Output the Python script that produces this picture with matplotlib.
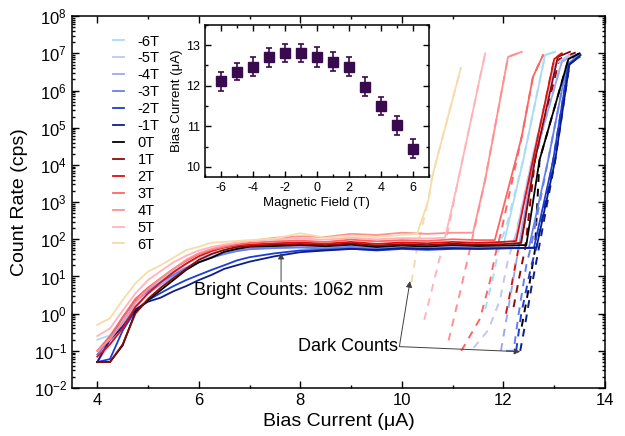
import numpy as np
import matplotlib
matplotlib.use("Agg")
import matplotlib.pyplot as plt
from matplotlib.ticker import LogLocator, MultipleLocator, NullFormatter

plt.rcParams['font.family'] = ['Liberation Sans', 'DejaVu Sans']
plt.rcParams['mathtext.default'] = 'regular'
plt.rcParams['axes.unicode_minus'] = False

# ---------------- data ----------------
fields = ['-6T', '-5T', '-4T', '-3T', '-2T', '-1T', '0T', '1T', '2T', '3T', '4T', '5T', '6T']
colors = ['#a9dcf5', '#c3c6f3', '#9aa8f3', '#6680f0', '#1c3cd6', '#0c1c8c', '#000000',
          '#8b0a0a', '#dd1010', '#ff6464', '#ff9090', '#ffb4ba', '#f6dcab']

bias_low = [4.0, 4.25, 4.5, 4.75, 5.0, 5.25, 5.5, 5.75, 6.0, 6.25, 6.5, 6.75, 7.0,
            7.5, 8.0, 8.5, 9.0, 9.5, 10.0, 10.5, 11.0, 11.5, 12.0]

# bright counts: plateau part (on bias_low grid) and rise part
bright_low_m6 = [0.2, 0.26, 0.7, 2.0, 4.5, 8, 14, 22, 32, 42, 50, 58, 65, 70, 72, 68, 75, 62, 70, 66, 72, 68, 70]
bright_low_m5 = [0.05, 0.15, 0.6, 2.0, 4, 7, 12, 18, 26, 35, 45, 52, 58, 62, 66, 60, 70, 58, 62, 60, 65, 62, 60]
bright_low_m4 = [0.05, 0.2, 0.5, 1.6, 3.5, 6, 10, 16, 24, 32, 42, 50, 55, 60, 62, 58, 66, 56, 60, 58, 62, 60, 58]
bright_low_m3 = [0.08, 0.2, 0.8, 2.2, 4, 7, 11, 17, 24, 32, 40, 48, 54, 58, 60, 56, 62, 55, 58, 56, 60, 58, 57]
bright_low_m2 = [0.05, 0.06, 0.35, 1.2, 2.3, 3.6, 5.5, 8, 11, 15, 20, 27, 33, 42, 50, 52, 56, 50, 55, 52, 55, 56, 58]
bright_low_m1 = [0.05, 0.2, 0.45, 1.3, 2.1, 2.7, 4, 5.5, 8, 11, 16, 20, 25, 35, 45, 50, 55, 52, 58, 55, 58, 55, 57]
bright_low_p0 = [0.05, 0.05, 0.14, 1.1, 2.3, 4.3, 8, 15, 24, 32, 46, 55, 63, 66, 70, 65, 72, 62, 68, 64, 70, 66, 68]
bright_low_p1 = [0.05, 0.05, 0.15, 1.0, 2.5, 5, 9, 16, 28, 40, 52, 62, 66, 72, 75, 70, 78, 68, 74, 70, 76, 72, 74]
bright_low_p2 = [0.07, 0.15, 0.4, 1.5, 3.5, 7, 13, 22, 35, 48, 60, 68, 72, 78, 82, 76, 85, 75, 82, 78, 85, 80, 85]
bright_low_p3 = [0.1, 0.25, 0.8, 2.5, 5, 9, 16, 26, 40, 52, 62, 72, 80, 88, 92, 85, 98, 88, 95, 90, 100, 95]
bright_low_p4 = [0.1, 0.2, 0.6, 2, 4.5, 9, 16, 28, 42, 55, 68, 80, 90, 110, 120, 115, 140, 130, 150, 140, 150]
bright_low_p5 = [0.25, 0.4, 1.2, 3.5, 8, 14, 24, 36, 50, 62, 72, 82, 90, 100, 105, 98, 110, 100, 108, 105]
bright_low_p6 = [0.5, 0.75, 2.3, 6.5, 13.5, 20, 32, 51, 63, 81, 85, 90, 95, 105, 145, 110, 125, 115, 130]

rise_x_m6 = [12.39, 12.82, 13.02];              rise_y_m6 = [1.35e4, 9e6, 1.1e7]
rise_x_m5 = [12.2, 12.56, 13.0, 13.3];          rise_y_m5 = [65, 1.35e4, 5e6, 9e6]
rise_x_m4 = [12.3, 12.6, 13.15, 13.4];          rise_y_m4 = [62, 1.35e4, 6e6, 9e6]
rise_x_m3 = [12.5, 12.88, 13.25, 13.48];        rise_y_m3 = [58, 1.35e4, 5e6, 9e6]
rise_x_m2 = [12.6, 12.98, 13.28, 13.5];         rise_y_m2 = [58, 1.35e4, 5e6, 8e6]
rise_x_m1 = [12.65, 13.02, 13.3, 13.52];        rise_y_m1 = [60, 1.35e4, 5e6, 9e6]
rise_x_p0 = [12.45, 12.71, 13.28, 13.5];        rise_y_p0 = [70, 1.35e4, 7e6, 1e7]
rise_x_p1 = [12.35, 12.62, 13.07, 13.31];       rise_y_p1 = [80, 1.35e4, 8e6, 1.1e7]
rise_x_p2 = [12.25, 12.58, 13.0, 13.15];        rise_y_p2 = [90, 1.35e4, 7e6, 1e7]
rise_x_p3 = [11.83, 12.36, 12.58, 12.78];       rise_y_p3 = [95, 5.7e4, 2.3e6, 9e6]
rise_x_p4 = [11.4, 11.64, 12.09, 12.36];        rise_y_p4 = [150, 4e3, 8e6, 1.1e7]
rise_x_p5 = [10.85, 11.11, 11.64];              rise_y_p5 = [110, 4e3, 1e7]
rise_x_p6 = [10.3, 10.52, 10.6, 11.16];         rise_y_p6 = [140, 1.1e3, 5e3, 4e6]

# dark counts
dark_x_m6 = [11.64, 11.8, 11.93, 12.05, 12.39, 12.82, 13.02]
dark_y_m6 = [1.3, 10, 80, 200, 1.35e4, 9e6, 1.1e7]
dark_x_m5 = [11.41, 11.7, 11.93, 12.09, 12.25, 12.56, 13.0, 13.3]
dark_y_m5 = [0.12, 0.36, 2.3, 28, 150, 1.35e4, 5e6, 9e6]
dark_x_m4 = [11.95, 12.1, 12.3, 12.4, 12.6, 13.15, 13.4]
dark_y_m4 = [0.1, 1.5, 60, 200, 1.35e4, 6e6, 9e6]
dark_x_m3 = [12.05, 12.2, 12.3, 12.45, 12.55, 12.88, 13.25, 13.48]
dark_y_m3 = [0.1, 0.1, 1, 20, 70, 1.35e4, 5e6, 9e6]
dark_x_m2 = [12.25, 12.35, 12.55, 12.65, 12.98, 13.28, 13.5]
dark_y_m2 = [0.1, 1, 20, 60, 1.35e4, 5e6, 8e6]
dark_x_m1 = [12.33, 12.42, 12.55, 12.7, 13.02, 13.3, 13.52]
dark_y_m1 = [0.1, 0.45, 5, 60, 1.35e4, 5e6, 9e6]
dark_x_p0 = [12.36, 12.5, 12.62, 12.71, 13.28, 13.5]
dark_y_p0 = [0.45, 5, 51, 1.35e4, 7e6, 1e7]
dark_x_p1 = [12.2, 12.3, 12.43, 12.62, 13.1, 13.3, 13.52]
dark_y_p1 = [1.5, 8, 60, 1.35e4, 7e6, 9e6, 1.2e7]
dark_x_p2 = [12.05, 12.13, 12.29, 12.4, 12.58, 13.0, 13.15]
dark_y_p2 = [1, 3.5, 51, 200, 1.35e4, 7e6, 1e7]
dark_x_p3 = [11.17, 11.54, 11.74, 11.83, 11.95, 12.36, 12.58, 12.78]
dark_y_p3 = [0.1, 0.74, 8, 34, 150, 5.7e4, 2.3e6, 9e6]
dark_x_p4 = [10.92, 11.15, 11.38, 11.64, 12.09, 12.36]
dark_y_p4 = [0.19, 4, 95, 4e3, 8e6, 1.1e7]
dark_x_p5 = [10.44, 10.6, 10.75, 10.9, 11.11, 11.64]
dark_y_p5 = [0.68, 5, 34, 150, 4e3, 1e7]
dark_x_p6 = [10.19, 10.3, 10.52, 10.6, 11.16]
dark_y_p6 = [7, 60, 1.1e3, 5e3, 4e6]

# inset: switching current vs field
inset_field = [-6, -5, -4, -3, -2, -1, 0, 1, 2, 3, 4, 5, 6]
inset_current = [12.11, 12.35, 12.47, 12.70, 12.81, 12.81, 12.71, 12.59, 12.47, 11.98, 11.50, 11.02, 10.45]
inset_err = [0.23, 0.22, 0.23, 0.23, 0.23, 0.23, 0.24, 0.23, 0.23, 0.23, 0.23, 0.23, 0.23]

bright_lows = [bright_low_m6, bright_low_m5, bright_low_m4, bright_low_m3, bright_low_m2, bright_low_m1,
               bright_low_p0, bright_low_p1, bright_low_p2, bright_low_p3, bright_low_p4, bright_low_p5, bright_low_p6]
rise_xs = [rise_x_m6, rise_x_m5, rise_x_m4, rise_x_m3, rise_x_m2, rise_x_m1,
           rise_x_p0, rise_x_p1, rise_x_p2, rise_x_p3, rise_x_p4, rise_x_p5, rise_x_p6]
rise_ys = [rise_y_m6, rise_y_m5, rise_y_m4, rise_y_m3, rise_y_m2, rise_y_m1,
           rise_y_p0, rise_y_p1, rise_y_p2, rise_y_p3, rise_y_p4, rise_y_p5, rise_y_p6]
dark_xs = [dark_x_m6, dark_x_m5, dark_x_m4, dark_x_m3, dark_x_m2, dark_x_m1,
           dark_x_p0, dark_x_p1, dark_x_p2, dark_x_p3, dark_x_p4, dark_x_p5, dark_x_p6]
dark_ys = [dark_y_m6, dark_y_m5, dark_y_m4, dark_y_m3, dark_y_m2, dark_y_m1,
           dark_y_p0, dark_y_p1, dark_y_p2, dark_y_p3, dark_y_p4, dark_y_p5, dark_y_p6]

# ---------------- figure ----------------
fig = plt.figure(figsize=(6.25, 4.36), dpi=100)
ax = fig.add_axes([0.115, 0.110, 0.853, 0.853])

handles = [None] * len(fields)
order = list(range(6, 13)) + list(range(0, 6))  # draw positive fields first, blues on top
for i in order:
    low = bright_lows[i]
    bx = bias_low[:len(low)] + rise_xs[i]
    by = low + rise_ys[i]
    h, = ax.plot(bx, by, color=colors[i], lw=1.3, label=fields[i], zorder=2 + 0.01 * i)
    handles[i] = h
for i in order:
    ax.plot(dark_xs[i], dark_ys[i], color=colors[i], lw=1.4, ls=(0, (4, 3.5)), zorder=2)

ax.set_yscale('log')
ax.set_xlim(3.5, 14)
ax.set_ylim(1e-2, 1e8)
ax.xaxis.set_major_locator(MultipleLocator(2))
ax.xaxis.set_minor_locator(MultipleLocator(1))
ax.yaxis.set_major_locator(LogLocator(base=10, numticks=20))
ax.yaxis.set_minor_locator(LogLocator(base=10, subs=np.arange(2, 10), numticks=100))
ax.yaxis.set_minor_formatter(NullFormatter())
ax.tick_params(which='both', direction='in', top=True, right=True, width=1.0, labelsize=12)
ax.tick_params(which='major', length=5)
ax.tick_params(which='minor', length=2.5)
for s in ax.spines.values():
    s.set_linewidth(1.1)
ax.set_xlabel('Bias Current (\u03bcA)', fontsize=14)
ax.set_ylabel('Count Rate (cps)', fontsize=14)

leg = ax.legend(handles=handles, loc='upper left', bbox_to_anchor=(0.06, 0.974), frameon=False,
                fontsize=10.5, handlelength=0.8, handletextpad=0.9, labelspacing=0.2,
                borderaxespad=0.2)

# annotations
arrowprops = dict(arrowstyle='-|>', color='#404040', lw=0.7, mutation_scale=9,
                  shrinkA=0, shrinkB=0)
ax.annotate('', xy=(7.62, 43), xytext=(7.62, 7.2), arrowprops=arrowprops)
ax.text(7.76, 4.3, 'Bright Counts: 1062 nm', fontsize=13, ha='center', va='center')
ax.text(9.93, 0.13, 'Dark Counts', fontsize=13, ha='right', va='center')
ax.annotate('', xy=(10.16, 7.5), xytext=(9.95, 0.13), arrowprops=arrowprops)
ax.annotate('', xy=(12.33, 0.095), xytext=(9.95, 0.13), arrowprops=arrowprops)

# inset
axi = fig.add_axes([0.328, 0.594, 0.358, 0.349])
axi.errorbar(inset_field, inset_current, yerr=inset_err, fmt='s', color='#3a0a4e',
             ms=6.5, elinewidth=1.2, capsize=2.5, capthick=1.2)
axi.set_xlim(-7, 7)
axi.set_ylim(9.75, 13.5)
axi.xaxis.set_major_locator(MultipleLocator(2))
axi.xaxis.set_minor_locator(MultipleLocator(1))
axi.yaxis.set_major_locator(MultipleLocator(1))
axi.yaxis.set_minor_locator(MultipleLocator(0.5))
axi.tick_params(which='both', direction='in', top=True, right=True, width=1.0, labelsize=9)
axi.tick_params(which='major', length=4)
axi.tick_params(which='minor', length=2.5)
for s in axi.spines.values():
    s.set_linewidth(1.1)
axi.set_xlabel('Magnetic Field (T)', fontsize=9.5, labelpad=2)
axi.set_ylabel('Bias Current (\u03bcA)', fontsize=9.5, labelpad=2)

fig.savefig('out.png', dpi=100)
